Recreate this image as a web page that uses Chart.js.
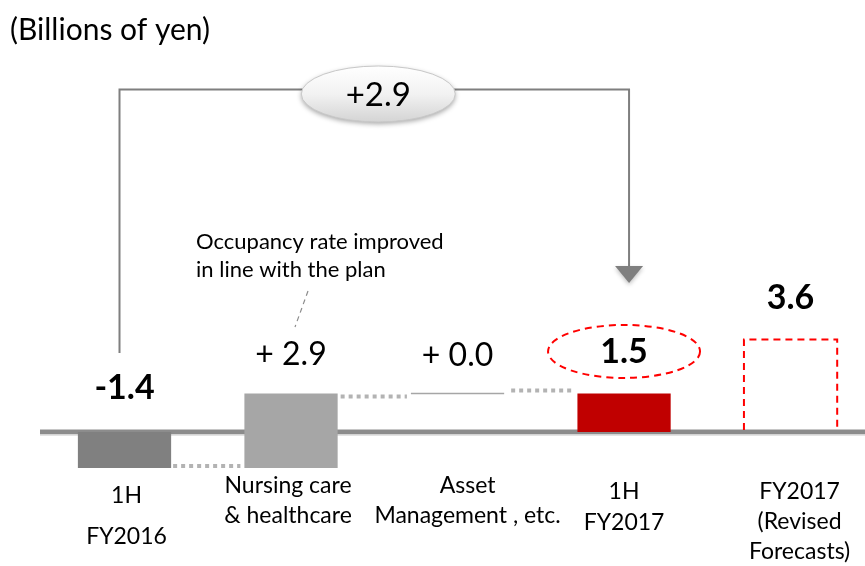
<!DOCTYPE html>
<html><head><meta charset="utf-8">
<script src="https://cdn.jsdelivr.net/npm/chart.js@4/dist/chart.umd.min.js"></script>
<style>html,body{margin:0;padding:0;background:#fff;overflow:hidden}canvas{display:block}</style>
</head><body><canvas id="c" width="865" height="566"></canvas>
<script>
// ---- data ----
const categories = [["1H","FY2016"],["Nursing care","& healthcare"],["Asset","Management , etc."],["1H","FY2017"],["FY2017","(Revised","Forecasts)"]];
const barStart = [0, -1.4, 1.5, 0, 0];
const barEnd = [-1.4, 1.5, 1.5, 1.5, 3.6];
const valueLabels = ["-1.4", "+ 2.9", "+ 0.0", "1.5", "3.6"];
const totalChangeLabel = "+2.9";
const unitLabel = "(Billions of yen)";
const noteLines = ["Occupancy rate improved", "in line with the plan"];

// ---- styles ----
const FONT = 'Lato, "Liberation Sans", sans-serif';
const barColors = ['#808080', '#a6a6a6', 'rgba(0,0,0,0)', '#c00000', 'rgba(0,0,0,0)'];
const labelBold = [true, false, false, true, true];
const labelRise = [44, 39, 38, 41, 41];
const catLayout = [
  {first: 64, step: 41, dx: 2},
  {first: 54, step: 30, dx: -3},
  {first: 54, step: 30, dx: 10},
  {first: 60, step: 31, dx: 0},
  {first: 60, step: 30, dx: 9}
];
const connectorShift = [-2, 3, -3];

const wfPlugin = {
  id: 'wf',
  beforeDatasetsDraw(chart) {
    const ctx = chart.ctx, y0 = chart.scales.y.getPixelForValue(0);
    ctx.save();
    ctx.fillStyle = '#8c8c8c';
    ctx.fillRect(40, y0 - 2.5, chart.width - 40, 5);
    ctx.fillStyle = '#e3e3e3';
    ctx.fillRect(40, y0 + 2.5, chart.width - 40, 1.5);
    ctx.restore();
  },
  afterDatasetsDraw(chart) {
    const ctx = chart.ctx, ys = chart.scales.y;
    const els = chart.getDatasetMeta(0).data;
    const zero = ys.getPixelForValue(0);
    const box = i => { const e = els[i]; return {l: e.x - e.width / 2, r: e.x + e.width / 2, top: Math.min(e.y, e.base), bot: Math.max(e.y, e.base), x: e.x}; };
    ctx.save();

    // dashed forecast bar
    const b4 = box(4);
    ctx.strokeStyle = '#ff0000'; ctx.lineWidth = 2; ctx.setLineDash([7, 5]);
    ctx.beginPath(); ctx.moveTo(b4.l, zero - 2); ctx.lineTo(b4.l, b4.top); ctx.lineTo(b4.r, b4.top); ctx.lineTo(b4.r, zero - 2); ctx.stroke();
    ctx.setLineDash([]);

    // zero-change line
    const b2 = box(2);
    ctx.strokeStyle = '#a6a6a6'; ctx.lineWidth = 1.5;
    ctx.beginPath(); ctx.moveTo(b2.l, b2.top); ctx.lineTo(b2.r, b2.top); ctx.stroke();

    // dotted connectors
    ctx.strokeStyle = '#b3b3b3'; ctx.lineWidth = 4; ctx.setLineDash([4, 4]);
    const gaps = [[2, -4], [3, -4], [7, -3]];
    for (let i = 0; i < 3; i++) {
      const a = box(i), b = box(i + 1);
      const yy = ys.getPixelForValue(barEnd[i]) + connectorShift[i];
      ctx.beginPath(); ctx.moveTo(a.r + gaps[i][0], yy); ctx.lineTo(b.l + gaps[i][1], yy); ctx.stroke();
    }
    ctx.setLineDash([]);

    // bracket arrow
    const b0 = box(0), b3 = box(3);
    const xL = b0.x - 5, xR = b3.x + 5, yTop = 89.5, yTip = 283;
    ctx.strokeStyle = '#7f7f7f'; ctx.lineWidth = 2;
    ctx.beginPath(); ctx.moveTo(xL, 353); ctx.lineTo(xL, yTop); ctx.lineTo(xR, yTop); ctx.lineTo(xR, yTip - 15); ctx.stroke();
    ctx.save();
    ctx.shadowColor = 'rgba(0,0,0,0.25)'; ctx.shadowBlur = 4; ctx.shadowOffsetY = 2;
    ctx.fillStyle = '#7f7f7f';
    ctx.beginPath(); ctx.moveTo(xR - 14, yTip - 17); ctx.lineTo(xR + 14, yTip - 17); ctx.lineTo(xR, yTip); ctx.closePath(); ctx.fill();
    ctx.restore();

    // total change ellipse
    const ex = (xL + xR) / 2 + 4, ey = 94;
    ctx.save();
    ctx.shadowColor = 'rgba(0,0,0,0.35)'; ctx.shadowBlur = 5; ctx.shadowOffsetY = 2;
    const g = ctx.createLinearGradient(0, ey - 28, 0, ey + 28);
    g.addColorStop(0, '#ffffff'); g.addColorStop(0.5, '#f2f2f2'); g.addColorStop(1, '#d4d4d4');
    ctx.fillStyle = g;
    ctx.beginPath(); ctx.ellipse(ex, ey, 77, 28, 0, 0, Math.PI * 2); ctx.fill();
    ctx.restore();
    ctx.strokeStyle = '#c8c8c8'; ctx.lineWidth = 1;
    ctx.beginPath(); ctx.ellipse(ex, ey, 77, 28, 0, 0, Math.PI * 2); ctx.stroke();
    ctx.fillStyle = '#000'; ctx.textAlign = 'center'; ctx.textBaseline = 'middle';
    ctx.font = '33px ' + FONT;
    ctx.fillText(totalChangeLabel, ex, ey + 1);

    // red dashed ellipse around result
    ctx.strokeStyle = '#ff0000'; ctx.lineWidth = 2; ctx.setLineDash([7, 5]);
    ctx.beginPath(); ctx.ellipse(b3.x, b3.top - 42, 76, 26.5, 0, 0, Math.PI * 2); ctx.stroke();
    ctx.setLineDash([]);

    // value labels
    for (let i = 0; i < els.length; i++) {
      const b = box(i);
      ctx.font = (labelBold[i] ? 'bold 34px ' : '32px ') + FONT;
      ctx.fillText(valueLabels[i], b.x, b.top - labelRise[i]);
    }

    // category labels
    ctx.font = '23px ' + FONT;
    for (let i = 0; i < categories.length; i++) {
      const b = box(i), L = catLayout[i];
      categories[i].forEach((t, k) => ctx.fillText(t, b.x + L.dx, zero + L.first + k * L.step));
    }

    // note + leader
    ctx.textAlign = 'left';
    ctx.font = '22px ' + FONT;
    noteLines.forEach((t, k) => ctx.fillText(t, 196, 242 + k * 28));
    ctx.strokeStyle = '#8c8c8c'; ctx.lineWidth = 1.2; ctx.setLineDash([5, 4]);
    ctx.beginPath(); ctx.moveTo(308, 291); ctx.lineTo(295, 327); ctx.stroke();
    ctx.setLineDash([]);

    // unit label
    ctx.font = '30px ' + FONT;
    ctx.fillText(unitLabel, 10, 30);
    ctx.restore();
  }
};

new Chart(document.getElementById('c'), {
  type: 'bar',
  data: {
    datasets: [{
      data: barStart.map((s, i) => ({x: i, y: [s, barEnd[i]]})),
      backgroundColor: barColors,
      borderWidth: 0,
      barPercentage: 0.56,
      categoryPercentage: 1
    }]
  },
  options: {
    responsive: false,
    animation: false,
    devicePixelRatio: 1,
    layout: {padding: {left: 41.25, right: 0, top: 0, bottom: 0}},
    scales: {
      x: {type: 'linear', min: -0.5, max: 4.447, display: false, afterBuildTicks: s => { s.ticks = []; }},
      y: {min: -5.214, max: 16.81, display: false}
    },
    plugins: {legend: {display: false}, tooltip: {enabled: false}}
  },
  plugins: [wfPlugin]
});
</script>
</body></html>
